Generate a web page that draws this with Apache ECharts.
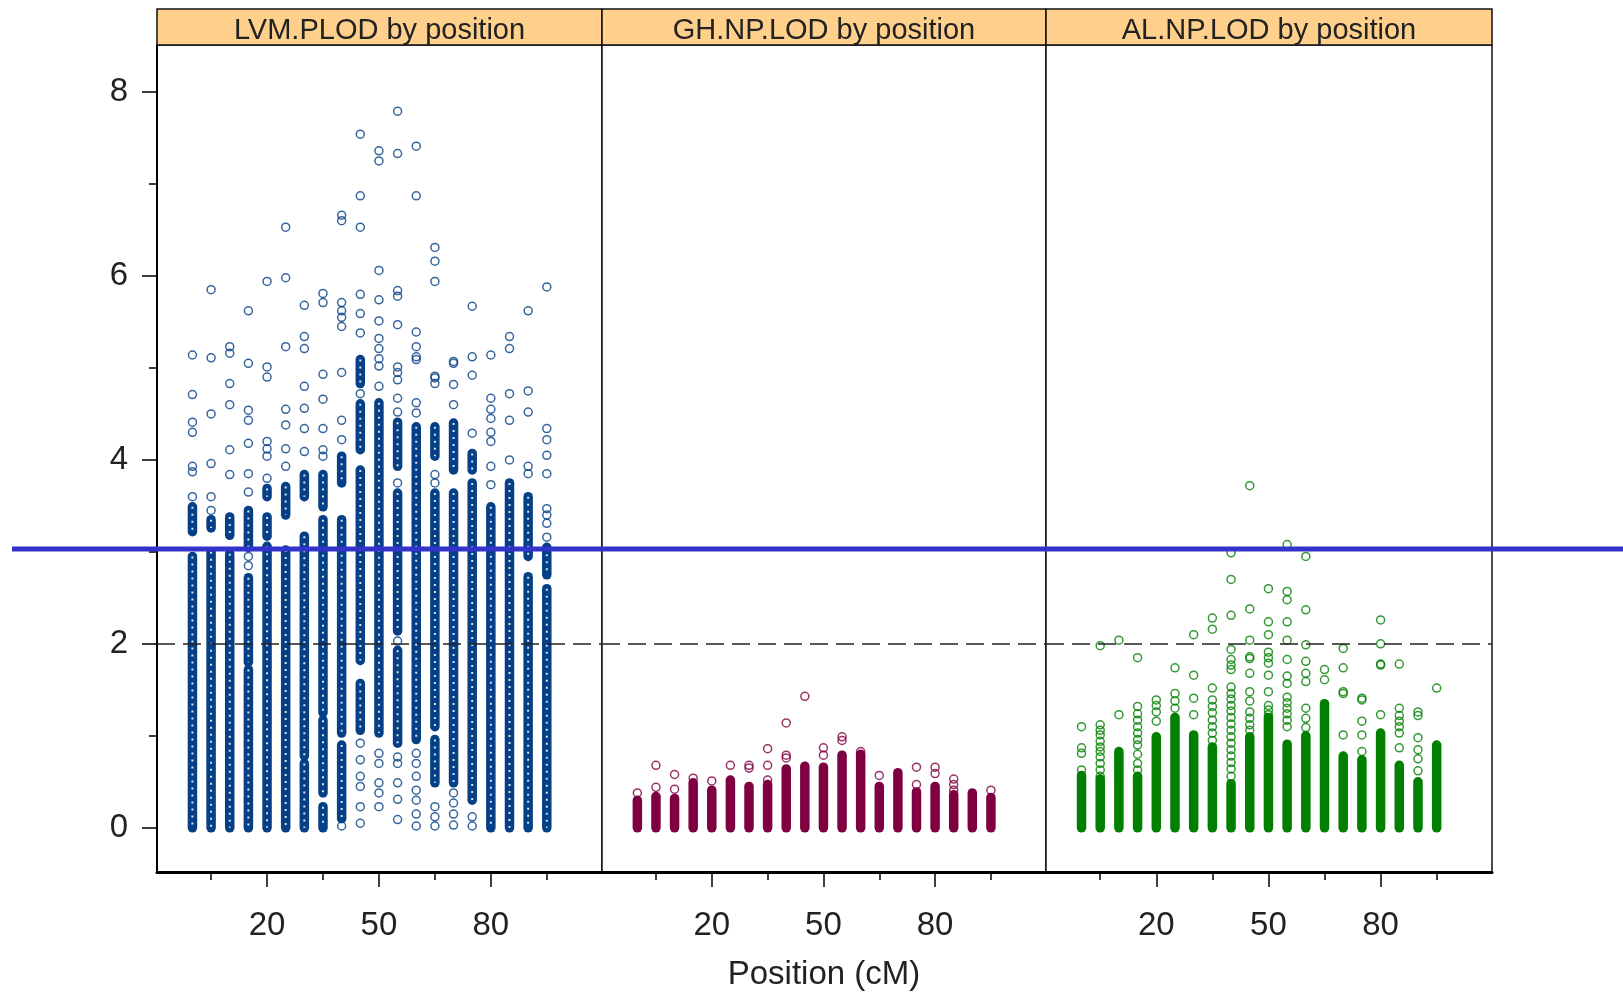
<!DOCTYPE html>
<html>
<head>
<meta charset="utf-8">
<title>LOD by position</title>
<script src="https://cdn.jsdelivr.net/npm/echarts@6/dist/echarts.min.js"></script>
<style>
html, body { margin: 0; padding: 0; background: #fff; }
#main { width: 1623px; height: 995px; }
</style>
</head>
<body>
<div id="main"></div>
<script>
// marker positions (cM), one column of LOD values per position
var positions = [0, 5, 10, 15, 20, 25, 30, 35, 40, 45, 50, 55, 60, 65, 70, 75, 80, 85, 90, 95];
var panelTitles = ['LVM.PLOD by position', 'GH.NP.LOD by position', 'AL.NP.LOD by position'];
var xMajorTicks = [20, 50, 80];
var xMinorTicks = [5, 35, 65, 95];
var yMajorTicks = [0, 2, 4, 6, 8];
var yMinorTicks = [1, 3, 5, 7];
var dashedLevel = 2;
var blueLevel = 3.03;

// LVM.PLOD: dense stretches [lo, hi] and single points, per position
var lvmRuns = [
	[[0, 2.95], [3.22, 3.49]],
	[[0, 3.0], [3.26, 3.35]],
	[[0, 2.98], [3.18, 3.38]],
	[[0, 1.72], [1.80, 2.72], [3.05, 3.45]],
	[[0, 3.06], [3.17, 3.38], [3.6, 3.69]],
	[[0, 3.02], [3.40, 3.71]],
	[[0, 0.7], [0.78, 3.17], [3.6, 3.84]],
	[[0, 0.23], [0.38, 1.17], [1.25, 3.35], [3.49, 3.84]],
	[[0.1, 0.9], [1.03, 3.35], [3.75, 4.04]],
	[[1.06, 1.57], [1.82, 3.89], [4.11, 4.61], [4.83, 5.09]],
	[[1.03, 4.62]],
	[[0.92, 1.93], [2.14, 3.64], [3.93, 4.41]],
	[[0.96, 4.36]],
	[[0.49, 0.96], [1.1, 3.64], [4.04, 4.36]],
	[[0.49, 3.64], [3.89, 4.4]],
	[[0.3, 3.75], [3.89, 4.07]],
	[[0, 3.49]],
	[[0, 3.75]],
	[[0, 2.73], [2.95, 3.6]],
	[[0, 2.6], [2.75, 3.05]]
];
var lvmPoints = [
	[5.14, 4.71, 4.41, 4.30, 3.93, 3.87, 3.60],
	[5.85, 5.11, 4.50, 3.96, 3.60, 3.45],
	[5.23, 5.16, 4.83, 4.60, 4.11, 3.84],
	[5.62, 5.05, 4.54, 4.43, 4.18, 3.85, 3.65, 2.85, 2.95],
	[5.94, 5.01, 4.90, 4.20, 4.12, 4.04, 3.80],
	[6.53, 5.98, 5.23, 4.55, 4.38, 4.12, 3.93],
	[5.68, 5.34, 5.21, 4.80, 4.56, 4.34, 4.09],
	[5.81, 5.71, 4.93, 4.66, 4.34, 4.11, 4.04],
	[6.66, 6.60, 5.71, 5.62, 5.55, 5.45, 4.95, 4.43, 4.22, 0.02],
	[7.54, 6.87, 6.53, 5.80, 5.59, 5.38, 4.72, 0.92, 0.74, 0.56, 0.45, 0.23, 0.05],
	[7.36, 7.25, 6.06, 5.74, 5.51, 5.32, 5.21, 5.10, 5.02, 4.80, 0.81, 0.70, 0.49, 0.38, 0.23],
	[7.79, 7.33, 5.84, 5.78, 5.47, 5.01, 4.95, 4.87, 4.67, 4.52, 3.75, 2.03, 0.77, 0.70, 0.49, 0.31, 0.09],
	[7.41, 6.87, 5.39, 5.23, 5.12, 5.09, 4.62, 4.51, 0.81, 0.70, 0.56, 0.41, 0.30, 0.15, 0.02],
	[6.31, 6.16, 5.94, 4.91, 4.89, 4.83, 3.84, 3.75, 0.23, 0.12, 0.02],
	[5.07, 5.05, 4.82, 4.60, 0.38, 0.27, 0.15, 0.03],
	[5.67, 5.12, 4.92, 4.29, 0.12, 0.02],
	[5.14, 4.67, 4.55, 4.45, 4.30, 4.20, 3.93, 3.73],
	[5.34, 5.21, 4.72, 4.43, 4.00],
	[5.62, 4.75, 4.52, 3.93, 3.85],
	[5.88, 4.34, 4.22, 4.05, 3.85, 3.47, 3.40, 3.31, 3.16]
];

// GH.NP.LOD: top of the solid stack (from 0) and single points above it
var ghTops = [0.30, 0.34, 0.32, 0.49, 0.41, 0.52, 0.45, 0.47, 0.64, 0.67, 0.66, 0.79, 0.80, 0.45, 0.60, 0.39, 0.45, 0.36, 0.38, 0.33];
var ghPoints = [
	[0.38], [0.44, 0.68], [0.42, 0.58], [0.54], [0.51],
	[0.68], [0.65, 0.68], [0.52, 0.68, 0.86], [0.76, 0.79, 1.14], [1.43],
	[0.79, 0.87], [0.95, 0.99], [0.83], [0.57], [],
	[0.47, 0.66], [0.59, 0.66], [0.41, 0.47, 0.53], [], [0.41]
];

// AL.NP.LOD
var alTops = [0.57, 0.53, 0.83, 0.56, 0.99, 1.20, 1.01, 0.88, 0.48, 0.99, 1.20, 0.91, 1.00, 1.35, 0.78, 0.74, 1.03, 0.68, 0.50, 0.90];
var alPoints = [
	[1.10, 0.87, 0.81, 0.63],
	[1.98, 1.12, 1.06, 1.01, 0.94, 0.88, 0.83, 0.77, 0.70, 0.63, 0.56],
	[2.04, 1.23],
	[1.85, 1.32, 1.24, 1.17, 1.10, 1.03, 0.96, 0.90, 0.80, 0.70, 0.63],
	[1.39, 1.33, 1.26, 1.16],
	[1.74, 1.46, 1.38, 1.30],
	[2.10, 1.66, 1.41, 1.23],
	[2.28, 2.16, 1.52, 1.39, 1.32, 1.25, 1.17, 1.10, 1.03, 0.95],
	[2.99, 2.70, 2.31, 1.94, 1.83, 1.77, 1.72, 1.53, 1.46, 1.40, 1.33, 1.27, 1.20, 1.13, 1.06, 0.99, 0.92, 0.85, 0.78, 0.71, 0.64, 0.56],
	[3.72, 2.38, 2.04, 1.86, 1.84, 1.68, 1.48, 1.38, 1.26, 1.19, 1.12, 1.06],
	[2.60, 2.24, 2.10, 1.91, 1.85, 1.79, 1.66, 1.48, 1.33, 1.28, 1.23],
	[3.08, 2.57, 2.48, 2.24, 2.04, 1.83, 1.65, 1.57, 1.42, 1.36, 1.30, 1.24, 1.17, 1.10],
	[2.95, 2.37, 1.99, 1.81, 1.68, 1.59, 1.30, 1.19, 1.09],
	[1.72, 1.61],
	[1.95, 1.74, 1.48, 1.46, 1.01],
	[1.41, 1.39, 1.16, 1.01, 0.83],
	[2.26, 2.00, 1.78, 1.77, 1.23],
	[1.78, 1.30, 1.22, 1.16, 1.10, 1.03, 0.87],
	[1.26, 1.22, 0.98, 0.85, 0.75, 0.62],
	[1.52]
];

// layout
var colors = ['#053f86', '#7f0040', '#007f00'];
var speckled = [true, false, false];
var panelLeft = [157, 602, 1046];
var panelWidth = [445, 444, 446];
var panelTop = 45, panelHeight = 827;
var stripTop = 9, stripHeight = 36;
var xMin = -9.5, xMax = 109.8, yMin = -0.48, yMax = 8.51;
var font = 'Liberation Sans';

function runsFromList(list) {
	var out = [];
	list.forEach(function(runs, i) {
		runs.forEach(function(r) { out.push([positions[i], r[0], r[1]]); });
	});
	return out;
}
function runsFromTops(tops) {
	return tops.map(function(t, i) { return [positions[i], 0, t]; });
}
function pointsFromList(list) {
	var out = [];
	list.forEach(function(vals, i) {
		vals.forEach(function(v) { out.push([positions[i], v]); });
	});
	return out;
}

var panelRuns = [runsFromList(lvmRuns), runsFromTops(ghTops), runsFromTops(alTops)];
var panelPoints = [pointsFromList(lvmPoints), pointsFromList(ghPoints), pointsFromList(alPoints)];

var myChart = echarts.init(document.getElementById('main'));

var grids = [], xAxes = [], yAxes = [], series = [], graphics = [];
var yIndex = [0, 2, 3];

for (var i = 0; i < 3; i++) {
	grids.push({
		left: panelLeft[i], top: panelTop, width: panelWidth[i], height: panelHeight,
		show: true, backgroundColor: '#fff', borderColor: '#111', borderWidth: 1.5,
		containLabel: false, outerBoundsMode: 'none'
	});
	// major ticks with labels
	xAxes.push({
		type: 'value', gridIndex: i, min: xMin, max: xMax, position: 'bottom',
		axisLine: { show: true, onZero: false, lineStyle: { color: '#000', width: 3 } },
		axisTick: { show: true, length: 15, customValues: xMajorTicks, lineStyle: { color: '#000', width: 1.5 } },
		axisLabel: { customValues: xMajorTicks, fontSize: 33, fontFamily: font, color: '#222', margin: 37 },
		splitLine: { show: false },
		name: i === 1 ? 'Position (cM)' : '',
		nameLocation: 'middle', nameGap: 86,
		nameTextStyle: { fontSize: 33, fontFamily: font, color: '#222' }
	});
	// minor ticks
	xAxes.push({
		type: 'value', gridIndex: i, min: xMin, max: xMax, position: 'bottom',
		axisLine: { show: false, onZero: false },
		axisTick: { show: true, length: 8, customValues: xMinorTicks, lineStyle: { color: '#000', width: 1.5 } },
		axisLabel: { show: false },
		splitLine: { show: false }
	});
}

yAxes.push({
	type: 'value', gridIndex: 0, min: yMin, max: yMax, position: 'left',
	axisLine: { show: true, onZero: false, lineStyle: { color: '#000', width: 2 } },
	axisTick: { show: true, length: 15, customValues: yMajorTicks, lineStyle: { color: '#000', width: 1.5 } },
	axisLabel: { customValues: yMajorTicks, fontSize: 33, fontFamily: font, color: '#222', margin: 29 },
	splitLine: { show: false }
});
yAxes.push({
	type: 'value', gridIndex: 0, min: yMin, max: yMax, position: 'left',
	axisLine: { show: false, onZero: false },
	axisTick: { show: true, length: 8, customValues: yMinorTicks, lineStyle: { color: '#000', width: 1.5 } },
	axisLabel: { show: false },
	splitLine: { show: false }
});
yAxes.push({ type: 'value', gridIndex: 1, min: yMin, max: yMax, show: false });
yAxes.push({ type: 'value', gridIndex: 2, min: yMin, max: yMax, show: false });

// a stack of overlapping open circles looks like a rounded bar,
// with white holes showing through where the circles are sparser
function makeRender(color, holes) {
	return function(params, api) {
		var x = api.value(0), lo = api.value(1), hi = api.value(2);
		var top = api.coord([x, hi]);
		var bot = api.coord([x, lo]);
		var r = 4.75;
		var kids = [{
			type: 'rect',
			shape: { x: top[0] - r, y: top[1] - r, width: 2 * r, height: bot[1] - top[1] + 2 * r, r: r },
			style: { fill: color, stroke: null }
		}];
		if (holes && bot[1] - top[1] > 6) {
			kids.push({
				type: 'line',
				shape: { x1: top[0], y1: top[1], x2: top[0], y2: bot[1] },
				style: { stroke: '#fff', lineWidth: 2, lineDash: [2, 5], opacity: 0.85 }
			});
		}
		return { type: 'group', children: kids };
	};
}

for (var k = 0; k < 3; k++) {
	series.push({
		type: 'custom', name: panelTitles[k] + ' dense',
		xAxisIndex: 2 * k, yAxisIndex: yIndex[k],
		data: panelRuns[k], encode: { x: 0, y: [1, 2] },
		renderItem: makeRender(colors[k], speckled[k]), z: 2, silent: true
	});
	series.push({
		type: 'scatter', name: panelTitles[k],
		xAxisIndex: 2 * k, yAxisIndex: yIndex[k],
		data: panelPoints[k], symbol: 'circle', symbolSize: 8,
		itemStyle: { color: 'rgba(255,255,255,0)', borderColor: colors[k], borderWidth: 1.5 },
		z: 3, silent: true,
		markLine: {
			silent: true, symbol: 'none', label: { show: false },
			lineStyle: { type: [18, 8], color: '#222', width: 1.5 },
			data: [{ yAxis: dashedLevel }]
		}
	});
	// strip above the panel
	graphics.push({
		type: 'rect', z: 10,
		shape: { x: panelLeft[k], y: stripTop, width: panelWidth[k], height: stripHeight },
		style: { fill: '#ffd08c', stroke: '#111', lineWidth: 1.5 }
	});
	graphics.push({
		type: 'text', z: 11,
		x: panelLeft[k] + panelWidth[k] / 2, y: stripTop + stripHeight / 2 + 4,
		style: { text: panelTitles[k], fill: '#222', font: '29px "' + font + '"', textAlign: 'center', textVerticalAlign: 'middle' }
	});
}

option = {
	backgroundColor: '#fff',
	animation: false,
	grid: grids,
	xAxis: xAxes,
	yAxis: yAxes,
	series: series,
	graphic: graphics
};
myChart.setOption(option);

// blue reference line at LOD 3, across the whole picture
var blueY = myChart.convertToPixel({ yAxisIndex: 0 }, blueLevel);
graphics.push({
	type: 'line', z: 20,
	shape: { x1: 12, y1: blueY, x2: 1623, y2: blueY },
	style: { stroke: '#3333cc', lineWidth: 5 }
});
myChart.setOption({ graphic: graphics });
</script>
</body>
</html>
